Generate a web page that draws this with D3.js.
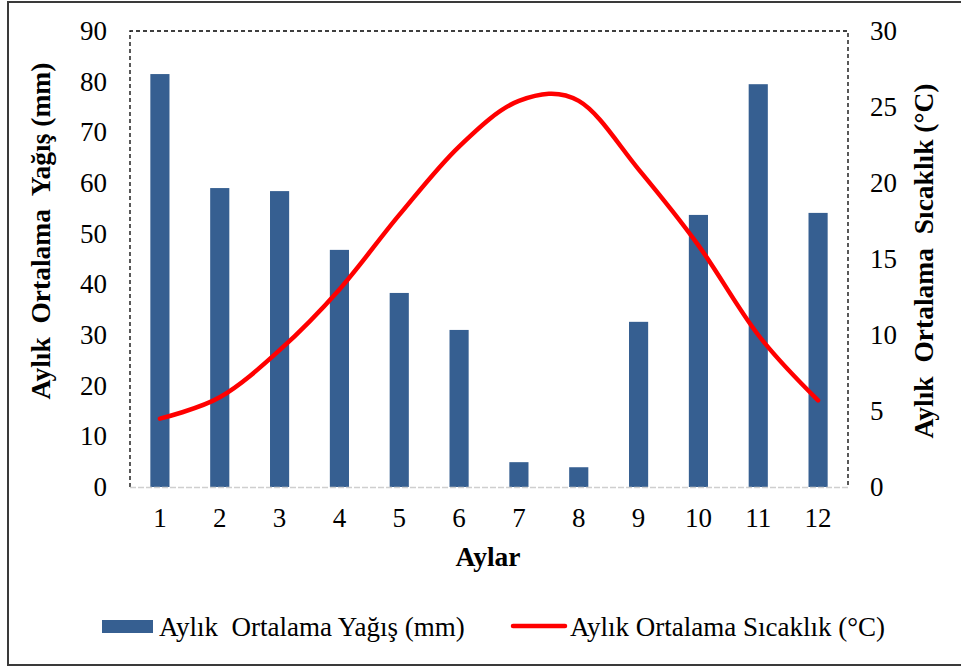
<!DOCTYPE html>
<html>
<head>
<meta charset="utf-8">
<script src="https://cdn.jsdelivr.net/npm/d3@7"></script>
<style>
  body { margin: 0; background: #fff; }
  svg text { font-family: 'Liberation Serif', serif !important; }
</style>
</head>
<body>
<script>
var width = 961;
var height = 668;
var fontSize = "27px";
var titleSize = "27.5px";

// months
var months = [1, 2, 3, 4, 5, 6, 7, 8, 9, 10, 11, 12];
// monthly mean precipitation (mm)
var rain = [81.5, 59.0, 58.4, 46.8, 38.3, 31.0, 4.9, 3.9, 32.6, 53.7, 79.5, 54.1];
// monthly mean temperature (°C)
var temp = [4.5, 5.9, 9.0, 13.0, 17.9, 22.4, 25.4, 25.4, 20.9, 15.9, 10.0, 5.7];

var leftTicks = [0, 10, 20, 30, 40, 50, 60, 70, 80, 90];
var rightTicks = [0, 5, 10, 15, 20, 25, 30];

var margin = { left: 130, right: 113, top: 31, bottom: 181 };
var x0 = margin.left, x1 = width - margin.right;
var y0 = height - margin.bottom, y1 = margin.top;

var svg = d3.select("body").append("svg")
  .attr("width", width)
  .attr("height", height);

svg.append("rect")
  .attr("width", width).attr("height", height)
  .attr("fill", "#fff");

// outer border (right side is cut off in the picture)
svg.append("path")
  .attr("d", "M" + (width + 2) + ",2 H8 V665 H" + (width + 2))
  .attr("fill", "none")
  .attr("stroke", "#3a3a3a")
  .attr("stroke-width", 2);

var xBand = d3.scaleBand()
  .domain(months)
  .range([x0, x1])
  .paddingInner(0.68)
  .paddingOuter(0.34);

var xPoint = d3.scalePoint()
  .domain(months)
  .range([x0, x1])
  .padding(0.5);

var yLeft = d3.scaleLinear().domain([0, 90]).range([y0, y1]);
var yRight = d3.scaleLinear().domain([0, 30]).range([y0, y1]);

// dashed frame of the plot area
svg.append("path")
  .attr("d", "M" + x0 + "," + y0 + " V" + y1 + " H" + x1 + " V" + y0)
  .attr("fill", "none")
  .attr("stroke", "#000")
  .attr("stroke-width", 1.3)
  .attr("stroke-dasharray", "4,3");

// bars
svg.append("g")
  .selectAll("rect")
  .data(months)
  .enter()
  .append("rect")
  .attr("x", function (d) { return xBand(d); })
  .attr("width", xBand.bandwidth())
  .attr("y", function (d, i) { return yLeft(rain[i]); })
  .attr("height", function (d, i) { return y0 - yLeft(rain[i]); })
  .attr("fill", "#365f91");

// bottom axis line
svg.append("line")
  .attr("x1", x0).attr("x2", x1)
  .attr("y1", y0 + 0.5).attr("y2", y0 + 0.5)
  .attr("stroke", "#cfcfcf")
  .attr("stroke-width", 1.3)
  .attr("stroke-dasharray", "6,2");

// temperature line
var line = d3.line()
  .x(function (d, i) { return xPoint(months[i]); })
  .y(function (d) { return yRight(d); })
  .curve(d3.curveCardinal.tension(0));

svg.append("path")
  .datum(temp)
  .attr("d", line)
  .attr("fill", "none")
  .attr("stroke", "#ff0000")
  .attr("stroke-width", 4.5)
  .attr("stroke-linecap", "round");

// axes (text only)
var axL = svg.append("g")
  .attr("transform", "translate(" + x0 + ",0)")
  .call(d3.axisLeft(yLeft).tickValues(leftTicks).tickSize(0).tickPadding(23));
var axR = svg.append("g")
  .attr("transform", "translate(" + x1 + ",0)")
  .call(d3.axisRight(yRight).tickValues(rightTicks).tickSize(0).tickPadding(22));
var axB = svg.append("g")
  .attr("transform", "translate(0," + y0 + ")")
  .call(d3.axisBottom(xBand).tickSize(0).tickPadding(21));

[axL, axR, axB].forEach(function (ax) {
  ax.attr("font-family", null).attr("font-size", null);
  ax.select(".domain").remove();
  ax.selectAll("text")
    .attr("font-family", "Liberation Serif")
    .style("font-family", "Liberation Serif")
    .style("font-size", fontSize)
    .attr("fill", "#000");
});

function label(sel, txt, bold) {
  return sel.append("text")
    .attr("font-family", "Liberation Serif")
    .style("font-family", "Liberation Serif")
    .style("font-size", bold ? titleSize : fontSize)
    .style("font-weight", bold ? "bold" : "normal")
    .style("white-space", "pre")
    .text(txt);
}

// axis titles
label(svg, "Aylık  Ortalama  Yağış (mm)", true)
  .attr("transform", "translate(50,231) rotate(-90)")
  .attr("text-anchor", "middle");

label(svg, "Aylık  Ortalama  Sıcaklık (°C)", true)
  .attr("transform", "translate(933,261) rotate(-90)")
  .attr("text-anchor", "middle");

label(svg, "Aylar", true)
  .attr("x", (x0 + x1) / 2 - 1)
  .attr("y", 566)
  .attr("text-anchor", "middle");

// legend
var legend = svg.append("g");
legend.append("rect")
  .attr("x", 102).attr("y", 620)
  .attr("width", 51).attr("height", 13)
  .attr("fill", "#365f91");
label(legend, "Aylık  Ortalama Yağış (mm)", false)
  .attr("x", 159).attr("y", 636);
legend.append("line")
  .attr("x1", 513).attr("x2", 565)
  .attr("y1", 626).attr("y2", 626)
  .attr("stroke", "#ff0000")
  .attr("stroke-width", 4.5)
  .attr("stroke-linecap", "round");
label(legend, "Aylık Ortalama Sıcaklık (°C)", false)
  .attr("x", 570).attr("y", 636);
</script>
</body>
</html>
